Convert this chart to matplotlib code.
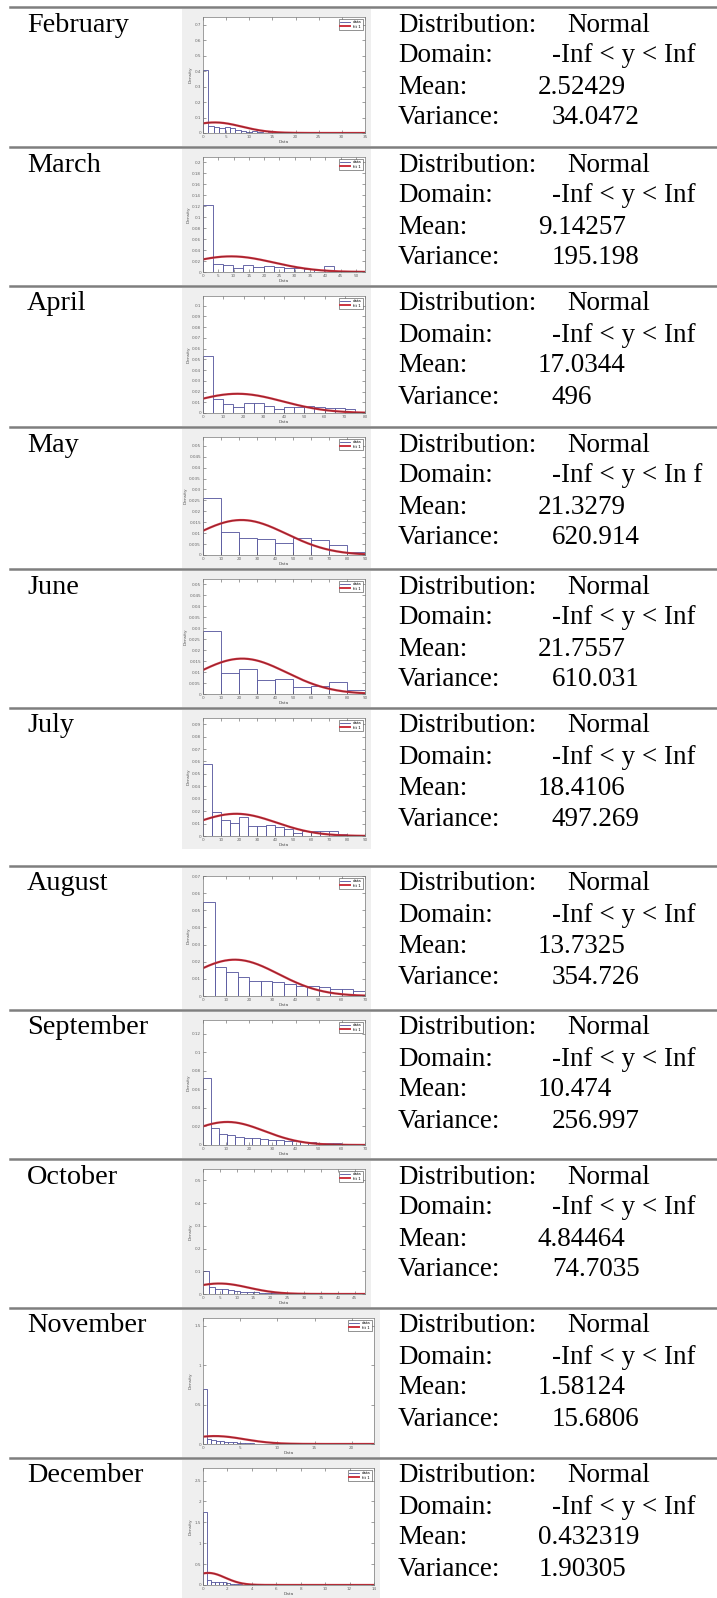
import numpy as np
import matplotlib
matplotlib.use("Agg")
import matplotlib.pyplot as plt
from matplotlib.lines import Line2D
from matplotlib.patches import Rectangle
from matplotlib.ticker import FormatStrFormatter

W, H = 717, 1598

months = ["February", "March", "April", "May", "June", "July",
          "August", "September", "October", "November", "December"]
mean_labels = ["2.52429", "9.14257", "17.0344", "21.3279", "21.7557", "18.4106",
               "13.7325", "10.474", "4.84464", "1.58124", "0.432319"]
var_labels = ["34.0472", "195.198", "496", "620.914", "610.031", "497.269",
              "354.726", "256.997", "74.7035", "15.6806", "1.90305"]
domain_labels = ["-Inf < y < Inf"] * 11
domain_labels[3] = "-Inf < y < In f"
means = [float(v) for v in mean_labels]
variances = [float(v) for v in var_labels]

# histogram densities per month (bin heights), bin widths and axis ranges
feb_density = [0.41, 0.048, 0.042, 0.030, 0.036, 0.034, 0.022, 0.012, 0.006, 0.010,
               0.004, 0.003, 0.008, 0.002, 0.004, 0.003, 0.001, 0.002, 0.004, 0.001,
               0.002, 0.001, 0.003, 0.001, 0.0, 0.002, 0.001, 0.0, 0.001, 0.002]
mar_density = [0.122, 0.0137, 0.012, 0.008, 0.012, 0.009, 0.011, 0.0095, 0.008, 0.008,
               0.006, 0.0036, 0.0107, 0.002, 0.001, 0.002]
apr_density = [0.0535, 0.0128, 0.0083, 0.006, 0.0089, 0.0089, 0.0067, 0.0037, 0.006,
               0.006, 0.0067, 0.006, 0.005, 0.0043, 0.0037, 0.001]
may_density = [0.026, 0.0104, 0.0078, 0.0075, 0.0055, 0.008, 0.0067, 0.0048, 0.0013]
jun_density = [0.0289, 0.0095, 0.0113, 0.0062, 0.0069, 0.0033, 0.0038, 0.0055, 0.0019]
jul_density = [0.058, 0.0197, 0.0128, 0.0103, 0.0149, 0.0082, 0.0082, 0.009, 0.007,
               0.0056, 0.0026, 0.0044, 0.0044, 0.0044, 0.0044, 0.0013, 0.0008, 0.0008]
aug_density = [0.055, 0.017, 0.014, 0.011, 0.009, 0.009, 0.008, 0.007, 0.006, 0.006,
               0.005, 0.004, 0.004, 0.003]
sep_density = [0.072, 0.018, 0.012, 0.011, 0.009, 0.008, 0.008, 0.006, 0.005, 0.005,
               0.004, 0.004, 0.003, 0.003, 0.002, 0.002, 0.002, 0.001, 0.001, 0.001]
oct_density = [0.10, 0.03, 0.024, 0.02, 0.016, 0.012, 0.01, 0.009, 0.007, 0.006,
               0.005, 0.004, 0.004, 0.003, 0.003, 0.002, 0.002, 0.002, 0.001, 0.001,
               0.001, 0.001, 0.001, 0.0, 0.001, 0.0]
nov_density = [0.70, 0.06, 0.05, 0.04, 0.035, 0.03, 0.022, 0.02, 0.015, 0.01, 0.012,
               0.008, 0.006, 0.005, 0.004, 0.006, 0.003, 0.002, 0.004, 0.001, 0.002, 0.001]
dec_density = [1.74, 0.12, 0.08, 0.07, 0.07, 0.06, 0.05, 0.03, 0.02, 0.02, 0.01, 0.01,
               0.005, 0.003]

densities = [feb_density, mar_density, apr_density, may_density, jun_density, jul_density,
             aug_density, sep_density, oct_density, nov_density, dec_density]
bin_widths = [1.17, 3.3, 5, 10, 10, 5, 5, 3.5, 1.85, 0.57, 0.32]
x_max = [35, 53, 80, 90, 90, 90, 70, 70, 48, 23, 14]
x_step = [5, 5, 10, 10, 10, 10, 10, 10, 5, 5, 2]
y_max = [0.75, 0.21, 0.109, 0.054, 0.0525, 0.095, 0.07, 0.135, 0.55, 1.6, 2.8]
y_step = [0.1, 0.02, 0.01, 0.005, 0.005, 0.01, 0.01, 0.02, 0.1, 0.5, 0.5]

# table layout in pixels
row_lines = [7, 147, 286, 427, 569, 708, 866, 1010, 1159, 1308, 1458]
chart_bottoms = [146, 285, 426, 568, 707, 849, 1009, 1158, 1307, 1457, 1598]
text_offsets = [18, 49, 80, 111]

BAR_EDGE = "#50509a"
FIT_RED = "#cc3340"
SERIF = "Liberation Serif"
FS = 19.5
FS_MONTH = 20.3

fig = plt.figure(figsize=(W / 100, H / 100), dpi=100)


def fx(x):
    return x / W


def fy(y):
    return 1 - y / H


def normal_pdf(x, mu, var):
    return np.exp(-0.5 * (x - mu) ** 2 / var) / np.sqrt(2 * np.pi * var)


for i, month in enumerate(months):
    top = row_lines[i]

    # month name and fit summary
    def put(x, dy, s, size=FS):
        fig.text(fx(x), fy(top + dy), s, family=SERIF, fontsize=size,
                 ha="left", va="center", color="black")

    put(27, text_offsets[0], month, FS_MONTH)
    put(398, text_offsets[0], "Distribution:")
    put(567, text_offsets[0], "Normal")
    put(398, text_offsets[1], "Domain:")
    put(552, text_offsets[1], domain_labels[i])
    put(398, text_offsets[2], "Mean:")
    put(538, text_offsets[2], mean_labels[i])
    put(398, text_offsets[3], "Variance:")
    put(539 if i == 10 else 552, text_offsets[3], var_labels[i])

    # grey panel behind each histogram
    bg_left = 182
    bg_right = 380 if i >= 9 else 371
    bg_top = top + 2
    bg_bot = chart_bottoms[i]
    fig.add_artist(Rectangle((fx(bg_left), fy(bg_bot)), (bg_right - bg_left) / W,
                             (bg_bot - bg_top) / H, transform=fig.transFigure,
                             facecolor="#efefef", edgecolor="none", zorder=0))

    p_left = bg_left + 21
    p_right = bg_right - 6
    p_top = bg_top + 8
    p_bot = bg_bot - 13
    ax = fig.add_axes([fx(p_left), fy(p_bot), (p_right - p_left) / W, (p_bot - p_top) / H])
    ax.set_facecolor("white")

    dens = densities[i]
    bw = bin_widths[i]
    edges = np.arange(len(dens)) * bw
    ax.bar(edges, dens, width=bw, align="edge", facecolor="white",
           edgecolor=BAR_EDGE, linewidth=0.6)
    xs = np.linspace(0, x_max[i], 300)
    fit = normal_pdf(xs, means[i], variances[i])
    ax.plot(xs, fit, color=FIT_RED, lw=1.6)
    ax.plot(xs, fit, color="#7a1a22", lw=0.4)

    ax.set_xlim(0, x_max[i])
    ax.set_ylim(0, y_max[i])
    ax.set_xticks(np.arange(0, x_max[i] + 1e-9, x_step[i]))
    ax.set_yticks(np.arange(0, y_max[i] + 1e-9, y_step[i]))
    ax.yaxis.set_major_formatter(FormatStrFormatter("%g"))
    ax.xaxis.set_major_formatter(FormatStrFormatter("%g"))
    ax.tick_params(direction="in", length=2, width=0.4, top=True, right=True,
                   labelsize=3, labelcolor="#666666", color="#555555", pad=1.5)
    for sp in ax.spines.values():
        sp.set_color("#777777")
        sp.set_linewidth(0.5)
    ax.set_xlabel("Data", fontsize=3.2, labelpad=1, color="#555555")
    ax.set_ylabel("Density", fontsize=3.2, labelpad=1, color="#555555")

    handles = [Line2D([], [], color=BAR_EDGE, lw=0.6), Line2D([], [], color=FIT_RED, lw=1.4)]
    leg = ax.legend(handles, ["data", "fit 1"], loc="upper right", fontsize=2.8,
                    handlelength=2.5, borderpad=0.3, labelspacing=0.15,
                    fancybox=False, framealpha=1)
    leg.get_frame().set_edgecolor("#404040")
    leg.get_frame().set_linewidth(0.4)

# horizontal rules of the table
for y in row_lines:
    fig.add_artist(Line2D([fx(10), 1], [fy(y), fy(y)], color="#7f7f7f", lw=1.8, zorder=5))

fig.savefig("out.png", dpi=100)
